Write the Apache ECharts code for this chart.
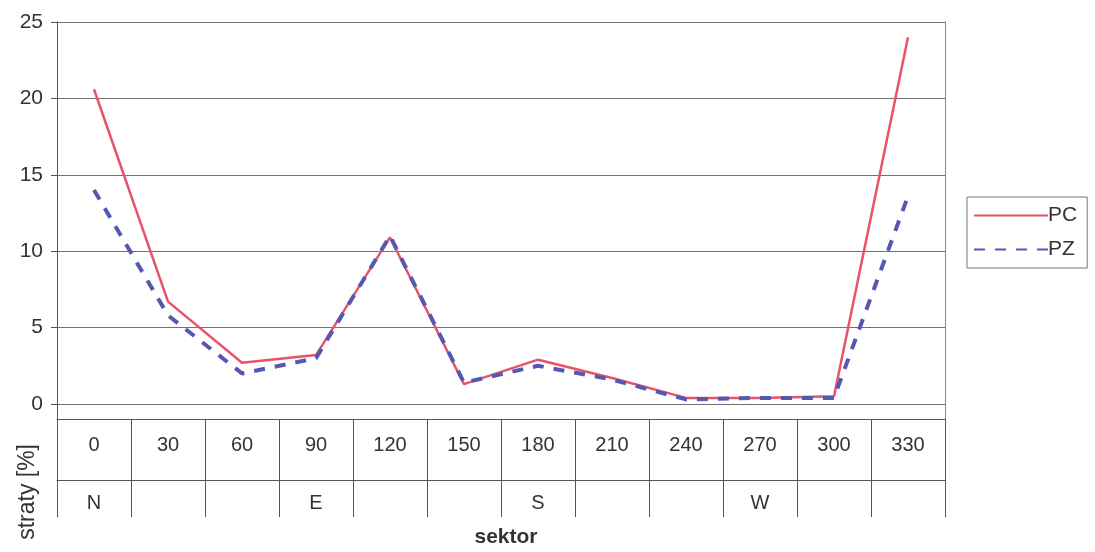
<!DOCTYPE html>
<html>
<head>
<meta charset="utf-8">
<script src="https://cdn.jsdelivr.net/npm/echarts@6/dist/echarts.min.js"></script>
<style>
html,body{margin:0;padding:0;background:#fff;}
#chart{width:1095px;height:552px;}
</style>
</head>
<body>
<div id="chart"></div>
<script>
var sectors = ['0','30','60','90','120','150','180','210','240','270','300','330'];
var compass = ['N','','','E','','','S','','','W','',''];
var yTicks = {min:0, max:25, interval:5};
var seriesPC = [20.6, 6.7, 2.7, 3.2, 10.9, 1.3, 2.9, 1.7, 0.4, 0.4, 0.5, 24.0];
var seriesPZ = [14.0, 5.8, 2.0, 3.0, 11.0, 1.4, 2.5, 1.6, 0.3, 0.4, 0.4, 13.6];

var FONT = '"Liberation Sans", Arial, sans-serif';
var TXT = '#333';
var LINE = '#555';

var chart = echarts.init(document.getElementById('chart'));
chart.setOption({
  backgroundColor:'#fff',
  animation:false,
  textStyle:{fontFamily:FONT},
  grid:[
    {left:57, right:150, top:22, bottom:148, containLabel:false, outerBoundsMode:'none'},
    {left:57, right:150, top:22, bottom:35, containLabel:false, outerBoundsMode:'none'}
  ],
  legend:{
    orient:'vertical', left:967, top:197,
    itemWidth:74, itemHeight:14, itemGap:13,
    padding:[8,10,8,6],
    borderColor:'#777', borderWidth:1,
    itemStyle:{opacity:0},
    textStyle:{fontSize:21, color:TXT, fontFamily:FONT, padding:[0,0,0,-5]},
    data:['PC','PZ']
  },
  xAxis:[
    {type:'category', gridIndex:0, data:sectors, boundaryGap:true, position:'bottom', offset:15,
     axisLine:{show:true, onZero:false, lineStyle:{color:LINE, width:1}},
     axisTick:{show:true, interval:0, alignWithLabel:false, length:98, lineStyle:{color:LINE, width:1}},
     axisLabel:{interval:0, margin:16, fontSize:20, color:TXT, fontFamily:FONT},
     splitLine:{show:false}},
    {type:'category', gridIndex:0, data:compass, boundaryGap:true, position:'bottom', offset:76,
     axisLine:{show:true, onZero:false, lineStyle:{color:LINE, width:1}},
     axisTick:{show:false},
     axisLabel:{interval:0, margin:13, fontSize:20, color:TXT, fontFamily:FONT},
     name:'sektor', nameLocation:'middle', nameGap:47,
     nameTextStyle:{fontSize:21, fontWeight:'bold', color:TXT, fontFamily:FONT, padding:[0,0,0,10]}},
    {type:'category', gridIndex:1, data:sectors, show:false}
  ],
  yAxis:[
    {type:'value', gridIndex:0, min:yTicks.min, max:yTicks.max, interval:yTicks.interval,
     axisLine:{show:true, lineStyle:{color:LINE, width:1}},
     axisTick:{show:true, length:6, lineStyle:{color:LINE}},
     axisLabel:{margin:14, fontSize:21, color:TXT, fontFamily:FONT},
     splitLine:{show:true, lineStyle:{color:'#707070', width:1}}},
    {type:'value', gridIndex:1, min:0, max:1, position:'left',
     axisLine:{show:true, onZero:false, lineStyle:{color:LINE, width:1}},
     axisTick:{show:false}, axisLabel:{show:false}, splitLine:{show:false}},
    {type:'value', gridIndex:1, min:0, max:1, position:'right',
     axisLine:{show:true, onZero:false, lineStyle:{color:'#888', width:1}},
     axisTick:{show:false}, axisLabel:{show:false}, splitLine:{show:false}}
  ],
  graphic:[
    {type:'text', left:16, top:444, rotation:Math.PI/2,
     style:{text:'straty [%]', fill:TXT, font:'23px "Liberation Sans", Arial, sans-serif'}}
  ],
  series:[
    {name:'PC', type:'line', xAxisIndex:0, yAxisIndex:0, data:seriesPC,
     showSymbol:false, symbol:'none', z:3,
     lineStyle:{color:'#e8536c', width:2.5, type:'solid'},
     itemStyle:{color:'#e8536c'}},
    {name:'PZ', type:'line', xAxisIndex:0, yAxisIndex:0, data:seriesPZ,
     showSymbol:false, symbol:'none', z:4,
     lineStyle:{color:'#5558b0', width:4, type:[11,10]},
     itemStyle:{color:'#5558b0'}}
  ]
});
</script>
</body>
</html>
